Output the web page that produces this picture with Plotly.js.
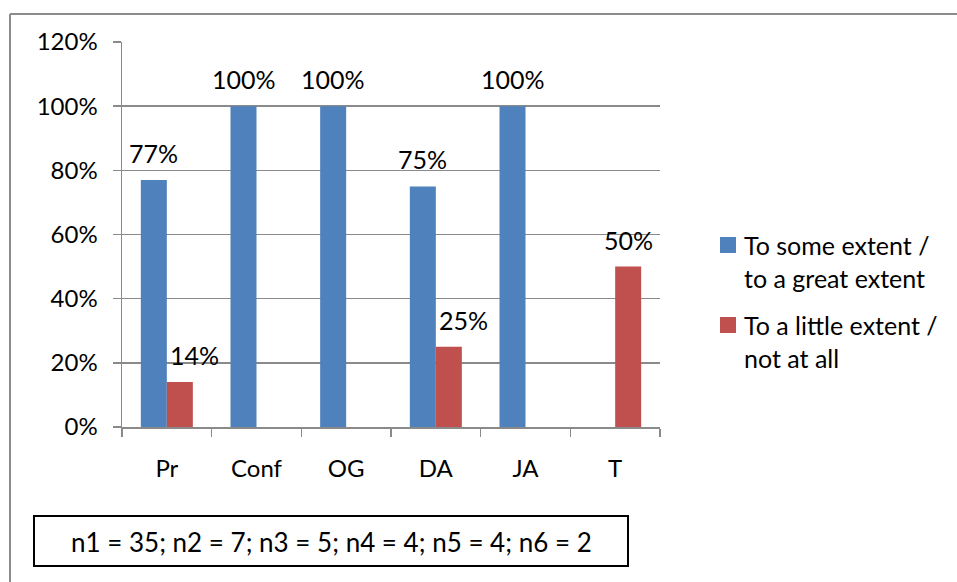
<!DOCTYPE html>
<html>
<head>
<meta charset="utf-8">
<script src="https://cdn.plot.ly/plotly-3.0.1.min.js"></script>
<style>
  html, body { margin: 0; padding: 0; background: #ffffff; }
  #chart { width: 957px; height: 582px; }
</style>
</head>
<body>
<div id="chart"></div>
<script>
// Categories along the x axis
const categories = ['Pr', 'Conf', 'OG', 'DA', 'JA', 'T'];

// Share of respondents per category (null = no bar)
const someOrGreat = [0.77, 1.00, 1.00, 0.75, 1.00, null];
const littleOrNone = [0.14, null, null, 0.25, null, 0.50];

// Series names (two lines each in the legend)
const seriesNames = ['To some extent /<br>to a great extent', 'To a little extent /<br>not at all'];

// Sample sizes note
const sampleNote = 'n1 = 35; n2 = 7; n3 = 5; n4 = 4; n5 = 4; n6 = 2';

const colors = ['#4F81BD', '#C0504D'];
const FONT = 'Lato, "Noto Sans", sans-serif';
const GRID = '#8a8a8a';

// Plot area in pixels, used to place the decorations around it
const L = 122, R = 660, T = 42, B = 427;
const px = x => (x - L) / (R - L);
const py = y => (B - y) / (B - T);

const bargap = 0.42;
const series = [someOrGreat, littleOrNone];

const traces = series.map((vals, k) => ({
  type: 'bar',
  name: seriesNames[k],
  x: categories,
  y: vals,
  marker: { color: colors[k] },
  showlegend: false,
  hoverinfo: 'skip'
}));

// Value labels above every bar; a red label next to a blue bar is nudged
// right so the two labels do not collide
const annotations = [];
const half = (1 - bargap) / 4;
series.forEach((vals, k) => {
  vals.forEach((v, i) => {
    if (v === null) return;
    const nudge = (k === 1 && someOrGreat[i] !== null) ? 15 : 0;
    annotations.push({
      xref: 'x', yref: 'y',
      x: i + (k === 0 ? -half : half),
      y: v,
      yanchor: 'bottom', xanchor: 'center',
      yshift: 10, xshift: nudge,
      text: Math.round(v * 100) + '%',
      showarrow: false,
      font: { family: FONT, size: 25, color: '#000' }
    });
  });
});

// Legend: coloured squares with two-line labels
const shapes = [];
const legendTop = [245, 325];
seriesNames.forEach((name, k) => {
  const yc = legendTop[k];
  shapes.push({
    type: 'rect', xref: 'paper', yref: 'paper',
    x0: px(720), x1: px(736), y0: py(yc - 8), y1: py(yc + 8),
    fillcolor: colors[k], line: { width: 0 }
  });
  name.split('<br>').forEach((line, j) => {
    annotations.push({
      xref: 'paper', yref: 'paper',
      x: px(742), y: py(yc + j * 33),
      xanchor: 'left', yanchor: 'middle',
      text: line, showarrow: false,
      font: { family: FONT, size: 25, color: '#000' }
    });
  });
});

// Box holding the sample sizes
shapes.push({
  type: 'rect', xref: 'paper', yref: 'paper',
  x0: px(34), x1: px(628), y0: py(566), y1: py(516),
  line: { color: '#000', width: 2 }, fillcolor: 'rgba(0,0,0,0)'
});
annotations.push({
  xref: 'paper', yref: 'paper',
  x: px(331), y: py(542),
  xanchor: 'center', yanchor: 'middle',
  text: sampleNote, showarrow: false,
  font: { family: FONT, size: 26, color: '#000' }
});

// Chart frame (top and left edges)
shapes.push({
  type: 'line', xref: 'paper', yref: 'paper',
  x0: px(10), x1: px(957), y0: py(14), y1: py(14),
  line: { color: '#8c8c8c', width: 2 }
});
shapes.push({
  type: 'line', xref: 'paper', yref: 'paper',
  x0: px(10), x1: px(10), y0: py(14), y1: py(582),
  line: { color: '#8c8c8c', width: 2 }
});

const layout = {
  width: 957,
  height: 582,
  margin: { l: L, r: 957 - R, t: T, b: 582 - B },
  paper_bgcolor: '#ffffff',
  plot_bgcolor: '#ffffff',
  barmode: 'group',
  bargap: bargap,
  bargroupgap: 0,
  showlegend: false,
  xaxis: {
    type: 'category',
    showline: true, linecolor: GRID, linewidth: 1.5,
    ticks: 'outside', tickson: 'boundaries', ticklen: 8,
    tickcolor: GRID, tickwidth: 1.5,
    showgrid: false,
    tickfont: { family: FONT, size: 24, color: '#000' },
    ticklabelstandoff: 20,
    fixedrange: true
  },
  yaxis: {
    range: [0, 1.2],
    dtick: 0.2,
    tickformat: '.0%',
    showline: true, linecolor: GRID, linewidth: 1.5,
    ticks: 'outside', ticklen: 8, tickcolor: GRID, tickwidth: 1.5,
    showgrid: true, gridcolor: GRID, gridwidth: 1.5,
    zeroline: false,
    tickfont: { family: FONT, size: 24, color: '#000' },
    ticklabelstandoff: 10,
    fixedrange: true
  },
  annotations: annotations,
  shapes: shapes
};

Plotly.newPlot('chart', traces, layout, { displayModeBar: false, staticPlot: true });
</script>
</body>
</html>
